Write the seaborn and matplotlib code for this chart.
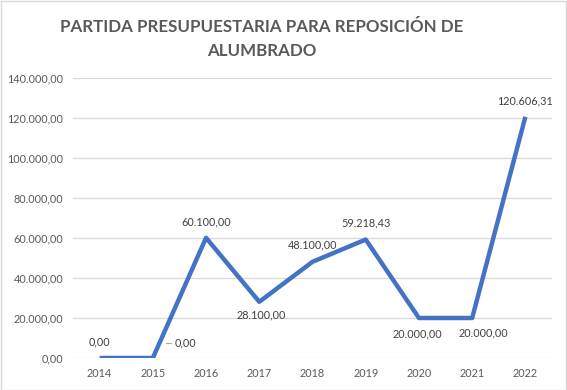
import matplotlib
matplotlib.use('Agg')
import matplotlib.pyplot as plt
import seaborn as sns
from matplotlib.patches import Rectangle

years = ['2014', '2015', '2016', '2017', '2018', '2019', '2020', '2021', '2022']
importe = [0, 0, 60100.00, 28100.00, 48100.00, 59218.43, 20000.00, 20000.00, 120606.31]
y_ticks = [0, 20000, 40000, 60000, 80000, 100000, 120000, 140000]

# label offsets (pixels) relative to each point, like Excel placed them
label_dx = [0, 22, 0, 2, 0, 0, -2, 11, 0]
label_dy = [16, 15, 16, -13, 17, 17, -16, -15, 16]
label_ha = ['center', 'left', 'center', 'center', 'center', 'center', 'center', 'center', 'center']


def es_num(v):
    s = f'{v:,.2f}'
    return s.replace(',', 'X').replace('.', ',').replace('X', '.')


sns.set_style('white')
plt.rcParams['font.family'] = ['Lato', 'DejaVu Sans']

fig = plt.figure(figsize=(5.67, 3.9), dpi=100)
ax = fig.add_axes([73 / 567, 1 - 358 / 390, (552 - 73) / 567, (358 - 78) / 390])

xs = list(range(len(years)))
sns.lineplot(x=xs, y=importe, ax=ax, color='#4472C4', linewidth=3.2, solid_capstyle='butt')

ax.set_xlim(-0.5, len(years) - 0.5)
ax.set_ylim(0, 140000)
ax.set_xticks(xs)
ax.set_xticklabels(years)
ax.set_yticks(y_ticks)
ax.set_yticklabels([es_num(v) for v in y_ticks])
ax.tick_params(axis='both', labelsize=7.8, colors='#595959', length=0)
ax.tick_params(axis='y', pad=7)
ax.tick_params(axis='x', pad=7)
ax.grid(axis='y', color='#D9D9D9', linewidth=0.9)
ax.set_axisbelow(True)
for s in ax.spines.values():
    s.set_visible(False)

for i, v in enumerate(importe):
    ax.annotate(es_num(v), (xs[i], v), xytext=(label_dx[i], label_dy[i]),
                textcoords='offset pixels', ha=label_ha[i], va='center',
                fontsize=7.8, color='#404040')

# small leader line for the 2015 label (pixel offsets from the point)
lead = ax.transData.transform((xs[1], importe[1]))
inv = ax.transData.inverted()
p0 = inv.transform((lead[0] + 13, lead[1] + label_dy[1]))
p1 = inv.transform((lead[0] + 18, lead[1] + label_dy[1]))
ax.plot([p0[0], p1[0]], [p0[1], p1[1]], color='#A6A6A6', linewidth=0.8)

fig.text(262 / 567, 1 - 27 / 390, 'PARTIDA PRESUPUESTARIA PARA REPOSICIÓN DE',
         ha='center', va='center', fontsize=12.2, fontweight='bold', color='#595959')
fig.text(262 / 567, 1 - 51 / 390, 'ALUMBRADO',
         ha='center', va='center', fontsize=12.2, fontweight='bold', color='#595959')

fig.patches.append(Rectangle((0.001, 0.001), 0.997, 0.997, transform=fig.transFigure,
                             fill=False, edgecolor='#D9D9D9', linewidth=1))

fig.savefig('out.png', dpi=100)
